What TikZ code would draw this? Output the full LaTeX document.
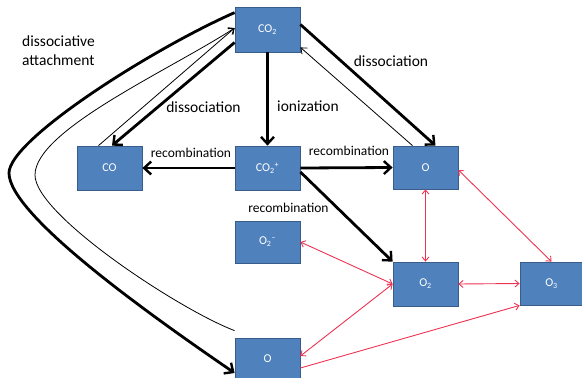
\documentclass[tikz,border=0pt]{standalone}
\usepackage{fontspec}
\setmainfont{Carlito}
\usetikzlibrary{arrows.meta}
\definecolor{boxfill}{RGB}{79,129,189}
\definecolor{boxline}{RGB}{56,93,138}
\definecolor{arrowred}{RGB}{238,52,82}
\tikzset{
  species/.style={rectangle, fill=boxfill, draw=boxline, line width=0.8pt, minimum width=65pt, minimum height=44pt, inner sep=0pt, text=white, font=\fontsize{12}{14}\selectfont},
  thk/.style={line width=2.8pt, -{Straight Barb[length=7pt,width=13pt,line width=2.4pt]}},
  thn/.style={line width=0.8pt, -{Straight Barb[length=5pt,width=8pt,line width=0.8pt]}},
  redarrow/.style={arrowred, line width=0.9pt, -{Straight Barb[length=4pt,width=7pt,line width=0.9pt]}},
  redboth/.style={arrowred, line width=0.9pt, {Straight Barb[length=4pt,width=7pt,line width=0.9pt]}-{Straight Barb[length=4pt,width=7pt,line width=0.9pt]}},
  biglabel/.style={font=\fontsize{15.5}{19}\selectfont, inner sep=0pt},
  smalllabel/.style={font=\fontsize{13.5}{16}\selectfont, inner sep=0pt}
}
\begin{document}
\begin{tikzpicture}[x=1pt,y=-1pt]
\fill[white] (0,0) rectangle (582,378);
\useasboundingbox (0,0) rectangle (582,378);

\node[species, minimum height=45pt] (co2) at (267.5,29.5) {CO\textsubscript{2}};
\node[species] (co) at (109.5,168) {CO};
\node[species] (co2p) at (267.5,168) {CO\textsubscript{2}\textsuperscript{+}};
\node[species, minimum height=43pt] (o1) at (425.5,167.5) {O};
\node[species, minimum height=42pt] (o2m) at (267.5,242) {O\textsubscript{2}\textsuperscript{--}};
\node[species] (o2) at (425.5,284) {O\textsubscript{2}};
\node[species, minimum width=63pt, minimum height=43pt] (o3) at (551.5,283.5) {O\textsubscript{3}};
\node[species, minimum height=42pt] (ob) at (267.5,359) {O};

% black arrows
\draw[thk] (co2.south) -- (co2p.north);
\draw[thk] ([yshift=-13pt]co2.west) -- ([xshift=2.5pt]co.north);
\draw[thn] ([xshift=-11pt]co.north) -- ([yshift=1.5pt]co2.west);
\draw[thk] ([yshift=5pt]co2.east) -- ([xshift=10pt]o1.north);
\draw[thn] ([xshift=-13pt]o1.north) -- ([yshift=5pt]co2.south east);
\draw[thk] (co2p.west) -- (co.east);
\draw[thk] (co2p.east) -- (o1.west);
\draw[thk] ([yshift=-4pt]co2p.east) -- (o2.north west);

% dissociative attachment
\coordinate (vthick) at (9,173);
\coordinate (vthin) at (35,175);
\draw[thk] ([yshift=-6pt]co2.north west) .. controls (150,50) and (9,140) .. (vthick)
  .. controls (9,215) and (150,315) .. ([yshift=-14pt]ob.west);
\draw[thn] ([yshift=7pt]ob.north west) .. controls (180,310) and (35,215) .. (vthin)
  .. controls (35,130) and (170,70) .. ([yshift=1.5pt]co2.west);

% red arrows
\draw[redboth] (o1.south) -- (o2.north);
\draw[redboth] ([yshift=-2.5pt]o1.east) -- (o3.north);
\draw[redboth] (o2.east) -- (o3.west);
\draw[redboth] (o2m.east) -- (o2.west);
\draw[redboth] (o2.west) -- ([yshift=3pt]ob.east);
\draw[redarrow] ([yshift=-9pt]ob.east) -- (o3.south west);

% labels
\node[biglabel, align=left, anchor=north west] (da) at (22,36) {dissociative\\attachment};
\node[biglabel] (dl) at (203.5,107) {dissociation};
\node[biglabel] (dr) at (391,61) {dissociation};
\node[biglabel] (ion) at (308,106) {ionization};
\node[smalllabel] (r1) at (191,153) {recombination};
\node[smalllabel] (r2) at (349,151) {recombination};
\node[smalllabel] (r3) at (288.5,208) {recombination};
\end{tikzpicture}
\end{document}
